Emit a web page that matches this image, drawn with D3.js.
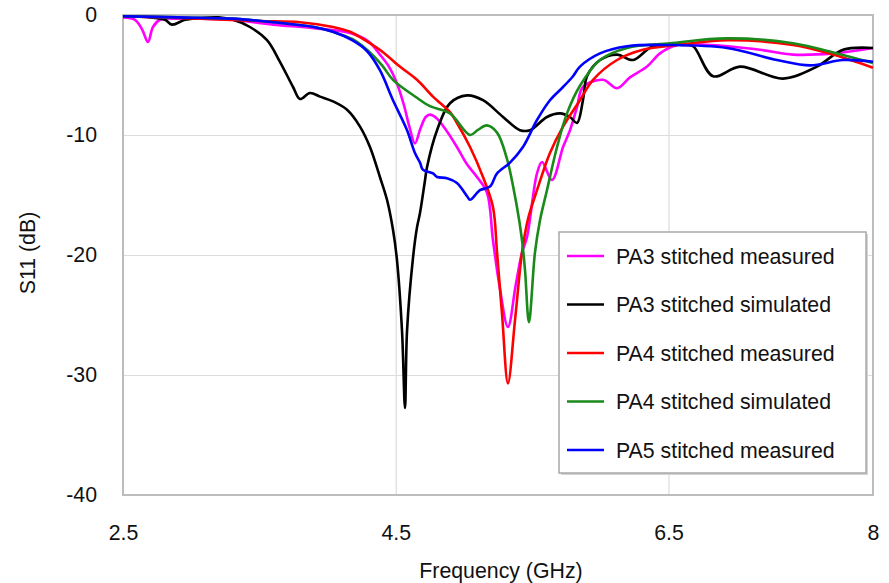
<!DOCTYPE html>
<html>
<head>
<meta charset="utf-8">
<script src="https://cdn.jsdelivr.net/npm/d3@7"></script>
<style>
  body { margin: 0; background: #fff; }
  svg { font-family: "Liberation Sans", Arial, sans-serif; }
  .grid line { stroke: #dcdcdc; stroke-width: 1.2px; }
  .grid .domain { display: none; }
  .ticks .domain { display: none; }
  .ticks text { font-size: 21.3px; fill: #111; }
  .legend text { font-size: 21.3px; fill: #111; }
</style>
</head>
<body>
<svg id="chart" width="889" height="583"></svg>
<script>
  // values: [frequency GHz, S11 dB]
  const pa3Measured = [
    [2.5, -0.2], [2.588, -0.4], [2.64, -1.2], [2.683, -2.25], [2.72, -1.0], [2.771, -0.4],
    [2.9, -0.3], [3.065, -0.3], [3.3, -0.4], [3.6, -0.8], [3.9, -1.1], [4.165, -1.5],
    [4.3, -2.2], [4.384, -3.3], [4.45, -4.3], [4.509, -5.7], [4.56, -7.5], [4.6, -9.3],
    [4.641, -10.7], [4.68, -9.5], [4.72, -8.5], [4.751, -8.3], [4.8, -8.6], [4.87, -9.6],
    [4.949, -11], [5.02, -12.4], [5.096, -13.5], [5.169, -14.8], [5.213, -18.75], [5.26, -22.5],
    [5.323, -26], [5.38, -22.5], [5.426, -19.8], [5.463, -18.5], [5.536, -13.2], [5.573, -12.25],
    [5.646, -13.75], [5.727, -11], [5.778, -9.6], [5.829, -7.7], [5.873, -6], [6.02, -5.4],
    [6.123, -6.1], [6.218, -5.2], [6.343, -4.3], [6.438, -3.2], [6.563, -2.5], [6.805, -2.5],
    [7.171, -2.9], [7.413, -3.3], [7.707, -3.2], [8.0, -2.75]
  ];
  const pa3Simulated = [
    [2.5, -0.1], [2.7, -0.2], [2.808, -0.4], [2.859, -0.8], [2.955, -0.4], [3.065, -0.25],
    [3.2, -0.2], [3.307, -0.4], [3.431, -1.0], [3.556, -2.1], [3.651, -3.9], [3.747, -6],
    [3.798, -7], [3.871, -6.5], [3.945, -6.8], [4.04, -7.2], [4.143, -7.9], [4.238, -9.3],
    [4.311, -11], [4.384, -13.5], [4.436, -15.4], [4.48, -17.9], [4.509, -20.4], [4.546, -26.3],
    [4.568, -32.75], [4.583, -26.3], [4.627, -20.2], [4.656, -17.7], [4.678, -16.5], [4.715, -13.75],
    [4.729, -12.7], [4.803, -9.6], [4.898, -7.35], [5.023, -6.7], [5.14, -7.1], [5.287, -8.5],
    [5.411, -9.6], [5.485, -9.6], [5.609, -8.5], [5.705, -8.2], [5.778, -8.5], [5.829, -9.0],
    [5.873, -7.1], [5.903, -5.1], [5.998, -3.75], [6.123, -3.3], [6.24, -3.75], [6.387, -2.6],
    [6.607, -2.5], [6.68, -2.6], [6.827, -5.1], [7.025, -4.3], [7.34, -5.3], [7.589, -4.3],
    [7.78, -2.9], [8.0, -2.75]
  ];
  const pa4Measured = [
    [2.5, -0.1], [2.8, -0.2], [3.065, -0.3], [3.5, -0.5], [3.798, -0.6], [4.04, -1.0],
    [4.165, -1.4], [4.289, -2.2], [4.407, -3.1], [4.53, -4.3], [4.656, -5.4], [4.773, -6.8],
    [4.898, -8.1], [4.949, -9], [5.045, -11], [5.14, -13.5], [5.213, -16], [5.243, -19.8],
    [5.28, -25], [5.323, -30.7], [5.375, -25.4], [5.426, -19.8], [5.47, -17], [5.536, -14.6],
    [5.631, -11.5], [5.727, -9.3], [5.851, -7.1], [5.947, -5.4], [6.123, -3.75], [6.313, -2.9],
    [6.563, -2.5], [6.93, -2.1], [7.413, -2.5], [7.707, -3.3], [8.0, -4.4]
  ];
  const pa4Simulated = [
    [2.5, -0.1], [2.9, -0.2], [3.3, -0.3], [3.6, -0.6], [3.9, -1.0], [4.04, -1.4],
    [4.18, -2.0], [4.289, -2.9], [4.4, -4.2], [4.48, -5.4], [4.656, -6.9], [4.751, -7.6],
    [4.898, -8.2], [5.045, -10], [5.1, -9.6], [5.169, -9.2], [5.243, -9.8], [5.316, -12],
    [5.389, -16], [5.426, -18.75], [5.448, -21.25], [5.477, -25.6], [5.521, -19.8], [5.558, -17.1],
    [5.609, -14.6], [5.683, -11], [5.756, -8.2], [5.851, -5.9], [5.998, -3.75], [6.196, -2.75],
    [6.511, -2.35], [6.93, -1.95], [7.413, -2.35], [7.736, -3.2], [8.0, -4.0]
  ];
  const pa5Measured = [
    [2.5, -0.1], [2.9, -0.2], [3.3, -0.3], [3.6, -0.6], [3.9, -1.0], [4.04, -1.4],
    [4.18, -2.1], [4.289, -3.0], [4.384, -4.6], [4.48, -7.1], [4.583, -9.6], [4.641, -11.5],
    [4.678, -12.3], [4.7, -12.9], [4.773, -13.2], [4.803, -13.5], [4.876, -13.6], [4.949, -14],
    [5.023, -15.1], [5.045, -15.4], [5.118, -14.6], [5.191, -14.3], [5.243, -13.2], [5.338, -12.3],
    [5.433, -11], [5.536, -8.75], [5.631, -7.1], [5.727, -6], [5.8, -5.1], [5.851, -4.3],
    [5.998, -3.2], [6.196, -2.6], [6.511, -2.5], [6.93, -2.75], [7.296, -3.75], [7.538, -4.2],
    [7.78, -3.75], [8.0, -3.9]
  ];

  const seriesNames = ["PA3 stitched measured", "PA3 stitched simulated", "PA4 stitched measured",
                       "PA4 stitched simulated", "PA5 stitched measured"];
  const seriesColors = ["#ff00ff", "#000000", "#ff0000", "#1a8a1a", "#0000ff"];
  const seriesData = [pa3Measured, pa3Simulated, pa4Measured, pa4Simulated, pa5Measured];

  const xTicks = [2.5, 4.5, 6.5, 8];
  const yTicks = [0, -10, -20, -30, -40];

  const plotLeft = 123, plotRight = 873, plotTop = 15, plotBottom = 495;
  const x = d3.scaleLinear().domain([2.5, 8]).range([plotLeft, plotRight]);
  const y = d3.scaleLinear().domain([-40, 0]).range([plotBottom, plotTop]);

  const svg = d3.select("#chart");

  // grid
  svg.append("g")
    .attr("class", "grid")
    .attr("transform", `translate(0,${plotBottom})`)
    .call(d3.axisBottom(x).tickValues([4.5, 6.5]).tickSize(-(plotBottom - plotTop)).tickFormat(""));
  svg.append("g")
    .attr("class", "grid")
    .attr("transform", `translate(${plotLeft},0)`)
    .call(d3.axisLeft(y).tickValues([-10, -20, -30]).tickSize(-(plotRight - plotLeft)).tickFormat(""));

  // frame
  svg.append("rect")
    .attr("x", plotLeft).attr("y", plotTop)
    .attr("width", plotRight - plotLeft).attr("height", plotBottom - plotTop)
    .attr("fill", "none").attr("stroke", "#bdbdbd").attr("stroke-width", 2);

  // tick labels (plain hyphen minus like the original)
  svg.append("g")
    .attr("class", "ticks")
    .attr("transform", `translate(0,${plotBottom})`)
    .call(d3.axisBottom(x).tickValues(xTicks).tickSize(0).tickPadding(30).tickFormat((d) => String(d)));
  svg.append("g")
    .attr("class", "ticks")
    .attr("transform", `translate(${plotLeft},0)`)
    .call(d3.axisLeft(y).tickValues(yTicks).tickSize(0).tickPadding(26).tickFormat((d) => String(d)));

  // lines
  const line = d3.line()
    .x((d) => x(d[0]))
    .y((d) => y(d[1]))
    .curve(d3.curveCatmullRom.alpha(0.5));

  seriesData.forEach((data, i) => {
    svg.append("path")
      .datum(data)
      .attr("fill", "none")
      .attr("stroke", seriesColors[i])
      .attr("stroke-width", 2.6)
      .attr("stroke-linejoin", "round")
      .attr("d", line);
  });

  // axis titles
  svg.append("text")
    .attr("x", 501).attr("y", 578)
    .attr("text-anchor", "middle")
    .attr("font-size", 21.3).attr("fill", "#111")
    .text("Frequency (GHz)");
  svg.append("text")
    .attr("transform", "translate(35,253) rotate(-90)")
    .attr("text-anchor", "middle")
    .attr("font-size", 21.3).attr("fill", "#111")
    .text("S11 (dB)");

  // legend
  const legend = svg.append("g").attr("class", "legend");
  legend.append("rect")
    .attr("x", 561).attr("y", 234).attr("width", 307).attr("height", 241)
    .attr("fill", "#d4d4d4");
  legend.append("rect")
    .attr("x", 559).attr("y", 232).attr("width", 307).attr("height", 241)
    .attr("fill", "#fff").attr("stroke", "#a8a8a8").attr("stroke-width", 1.5);
  seriesNames.forEach((name, i) => {
    const ly = 256 + i * 48.5;
    legend.append("line")
      .attr("x1", 567).attr("x2", 604).attr("y1", ly).attr("y2", ly)
      .attr("stroke", seriesColors[i]).attr("stroke-width", 2.6);
    legend.append("text")
      .attr("x", 616).attr("y", ly).attr("dy", "0.36em")
      .text(name);
  });
</script>
</body>
</html>
